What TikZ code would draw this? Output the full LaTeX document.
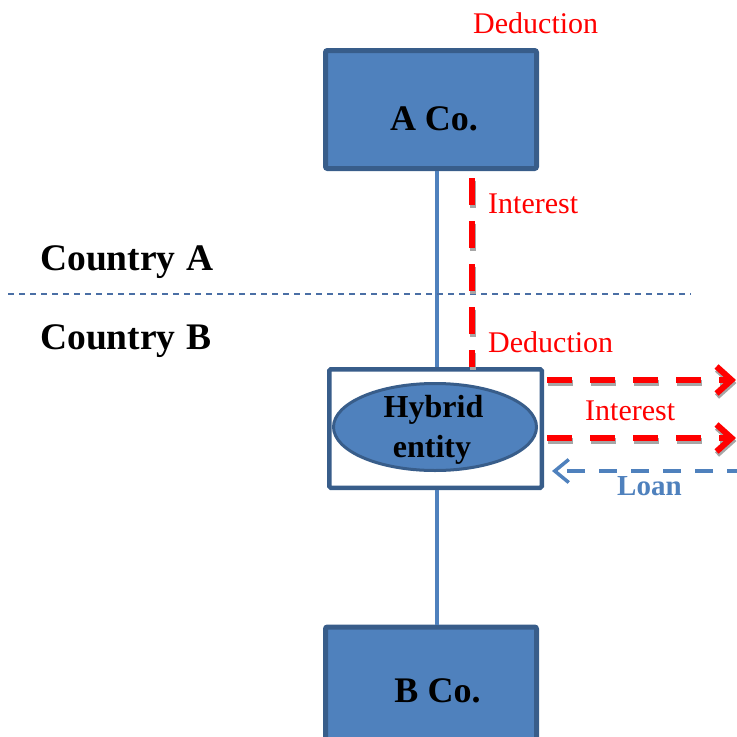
\documentclass[tikz,border=0pt]{standalone}
\usepackage{fontspec}
\setmainfont{Liberation Serif}
\usetikzlibrary{arrows.meta,shapes.geometric,calc}
\definecolor{boxfill}{HTML}{4F81BD}
\definecolor{boxline}{HTML}{385D8A}
\definecolor{divline}{HTML}{4A6FA5}
\definecolor{shadowgray}{HTML}{A6A6A6}
\begin{document}
\begin{tikzpicture}[x=1pt,y=-1pt,
  cobox/.style={draw=boxline, fill=boxfill, line width=5pt, rounded corners=2pt, inner sep=0pt, minimum width=211pt},
  hyboxstyle/.style={draw=boxline, fill=white, line width=4.5pt, rounded corners=1.5pt, inner sep=0pt, minimum width=212.5pt, minimum height=118.5pt},
  hyellstyle/.style={ellipse, draw=boxline, fill=boxfill, line width=3pt, inner sep=0pt, minimum width=203pt, minimum height=87pt},
  colbl/.style={font=\fontsize{36}{43}\selectfont\bfseries, inner sep=0pt, anchor=base},
  countrylbl/.style={font=\fontsize{37.5}{44}\selectfont\bfseries, inner sep=0pt, anchor=base west},
  hylbl/.style={font=\fontsize{32}{38}\selectfont\bfseries, inner sep=0pt, anchor=base},
  redlbl/.style={text=red, font=\fontsize{30}{36}\selectfont, inner sep=0pt, anchor=base west},
  loanlbl/.style={text=boxfill, font=\fontsize{29}{35}\selectfont\bfseries, inner sep=0pt, anchor=base west},
  vline/.style={draw=boxfill, line width=4pt},
  divider/.style={draw=divline, line width=1.5pt, dash pattern=on 6pt off 5pt},
  redvdash/.style={draw=red, line width=6pt, dash pattern=on 27pt off 16pt,
    preaction={draw=shadowgray, line width=6pt, dash pattern=on 27pt off 16pt,
      transform canvas={shift={(0.5pt,-2.5pt)}}}},
  redhdash/.style={draw=red, line width=6pt, dash pattern=on 25pt off 18pt,
    -{Straight Barb[length=15pt,width=27pt]},
    preaction={draw=shadowgray, line width=6pt, dash pattern=on 25pt off 18pt,
      transform canvas={shift={(0.5pt,-3pt)}}}},
  loanarrow/.style={draw=boxfill, line width=3.5pt, dash pattern=on 18pt off 14pt,
    -{Straight Barb[length=14pt,width=23pt]}}
]
\path[use as bounding box, clip] (0,0) rectangle (737,737);

% vertical connector coordinate
\coordinate (vx) at (437,0);

% boxes
\node[cobox, minimum height=118pt] (acobox) at (431,109.5) {};
\node[hyboxstyle] (hybox) at (435.5,428.5) {};
\node[cobox, minimum height=140pt, anchor=north] (bcobox) at (431,624.5) {};

% blue vertical lines
\draw[vline] (acobox.south -| vx) -- (hybox.north -| vx);
\draw[vline] (hybox.south -| vx) -- (bcobox.north -| vx);

% ellipse
\node[hyellstyle] (hyell) at (435,427) {};

% texts
\node[colbl] (acotext) at (434,130) {A Co.};
\node[colbl] (bcotext) at (437.5,702) {B Co.};
\node[hylbl] (hy1) at (433.5,417) {Hybrid};
\node[hylbl] (hy2) at (432,457) {entity};
\node[countrylbl] (ctyA) at (40,270) {Country\hspace{2pt} A};
\node[countrylbl] (ctyB) at (40,349) {Country\hspace{2pt} B};
\node[redlbl] (ded1) at (473,33) {Deduction};
\node[redlbl] (int1) at (488,213) {Interest};
\node[redlbl] (ded2) at (488,352) {Deduction};
\node[redlbl] (int2) at (585,420) {Interest};
\node[loanlbl] (loan) at (617,495) {Loan};

% divider
\coordinate (divL) at (8,294);
\coordinate (divR) at (691,294);
\draw[divider] (divL) -- (divR);

% red vertical dashed line
\coordinate (rtop) at (472,178);
\draw[redvdash] (rtop) -- (hybox.north -| rtop);

% red horizontal arrows
\coordinate (ia1) at (736,380);
\coordinate (ia2) at (736,438);
\draw[redhdash] ([xshift=3pt]hybox.east |- ia1) -- (ia1);
\draw[redhdash] ([xshift=3pt]hybox.east |- ia2) -- (ia2);

% loan arrow
\coordinate (loanstart) at (745,471);
\draw[loanarrow] (loanstart) -- ([xshift=8pt]hybox.east |- loanstart);
\end{tikzpicture}
\end{document}
